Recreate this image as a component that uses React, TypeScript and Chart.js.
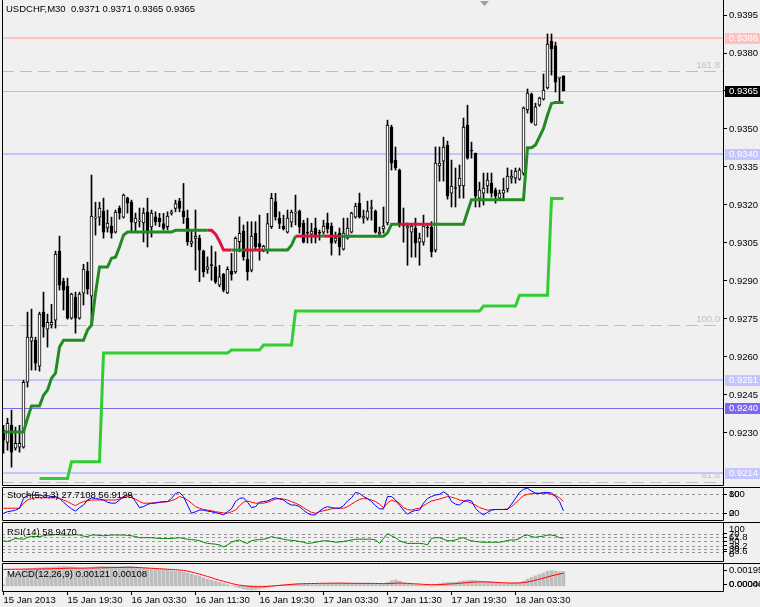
import React, { useEffect, useRef } from "react";
import { Chart, registerables } from "chart.js";

Chart.register(...registerables);

const FAMILY = "Liberation Sans";
const FSIZE = 9.5;
const FONT = `${FSIZE}px "${FAMILY}"`;
const BG = "#F0F0F0";

// ---------- price data (USDCHF M30), one value per candle ----------
const opens = [
  0.92311, 0.92263, 0.9233, 0.9224, 0.92244, 0.92244, 0.925, 0.92662, 0.92666, 0.92564,
  0.92777, 0.9271, 0.92726, 0.92745, 0.93018, 0.92899, 0.9288, 0.92753, 0.92836, 0.92753,
  0.92852, 0.92939, 0.9284, 0.93148, 0.93152, 0.93176, 0.93109, 0.93117, 0.93093, 0.93188,
  0.93152, 0.93227, 0.93211, 0.93129, 0.93136, 0.93129, 0.93172, 0.93113, 0.93153, 0.93147,
  0.93127, 0.93114, 0.93167, 0.93186, 0.93215, 0.93176, 0.93147, 0.93048, 0.93068, 0.93068,
  0.93018, 0.92946, 0.92965, 0.92956, 0.92883, 0.92926, 0.92853, 0.92939, 0.92936, 0.93055,
  0.93097, 0.92985, 0.92943, 0.93088, 0.93048, 0.93022, 0.93022, 0.93114, 0.93213, 0.93147,
  0.93117, 0.93093, 0.93132, 0.93168, 0.93176, 0.93129, 0.93091, 0.93085, 0.93109, 0.93091,
  0.93093, 0.93129, 0.93117, 0.93057, 0.93089, 0.93026, 0.93069, 0.93093, 0.93152, 0.93207,
  0.93148, 0.93148, 0.93186, 0.93176, 0.93085, 0.93105, 0.93129, 0.93508, 0.93377, 0.93338,
  0.93119, 0.93109, 0.93093, 0.93109, 0.93053, 0.93053, 0.93111, 0.93113, 0.93022, 0.93354,
  0.93373, 0.93436, 0.93247, 0.93267, 0.93275, 0.93275, 0.93515, 0.93417, 0.93405, 0.93227,
  0.93247, 0.93275, 0.93286, 0.93259, 0.93227, 0.93247, 0.93263, 0.93306, 0.93306, 0.93302,
  0.93326, 0.93575, 0.93638, 0.93515, 0.93594, 0.93618, 0.93662, 0.93847, 0.93828, 0.93701,
  0.9371,
];
const highs = [
  0.9233, 0.92358, 0.9239, 0.92323, 0.9233, 0.92508, 0.92777, 0.92789, 0.92678, 0.92777,
  0.92856, 0.92769, 0.92808, 0.93018, 0.93077, 0.92911, 0.92911, 0.92852, 0.92856, 0.92856,
  0.92966, 0.92974, 0.93318, 0.93211, 0.93211, 0.93227, 0.9318, 0.93152, 0.9318, 0.93196,
  0.93243, 0.93231, 0.93219, 0.93168, 0.93188, 0.93188, 0.93227, 0.9318, 0.93173, 0.93167,
  0.93167, 0.93173, 0.9318, 0.93219, 0.93226, 0.93285, 0.9318, 0.93101, 0.9318, 0.93081,
  0.93022, 0.92995, 0.93038, 0.93015, 0.92962, 0.9293, 0.92956, 0.93009, 0.93074, 0.93153,
  0.93121, 0.93134, 0.93134, 0.93134, 0.9316, 0.93041, 0.93167, 0.93246, 0.93246, 0.93173,
  0.9316, 0.9318, 0.9318, 0.93239, 0.9318, 0.9314, 0.93148, 0.93128, 0.93148, 0.93101,
  0.9314, 0.93168, 0.93129, 0.93093, 0.93109, 0.93148, 0.93148, 0.93172, 0.93207, 0.93247,
  0.9318, 0.93215, 0.93219, 0.9318, 0.93113, 0.93192, 0.93535, 0.93515, 0.93429, 0.93342,
  0.93188, 0.93129, 0.93121, 0.93148, 0.93089, 0.9316, 0.93121, 0.93134, 0.93429, 0.93429,
  0.93468, 0.93452, 0.93377, 0.93346, 0.93358, 0.93543, 0.93594, 0.93448, 0.93405, 0.9329,
  0.93326, 0.93326, 0.93326, 0.93267, 0.93259, 0.93306, 0.93346, 0.93338, 0.93346, 0.93346,
  0.93587, 0.93658, 0.93642, 0.93602, 0.93626, 0.93717, 0.93875, 0.93875, 0.93843, 0.93705,
  0.9371,
];
const lows = [
  0.9222, 0.92232, 0.92165, 0.92232, 0.92224, 0.9224, 0.92481, 0.92548, 0.92548, 0.92544,
  0.92678, 0.92639, 0.92714, 0.92714, 0.92864, 0.92785, 0.92749, 0.92749, 0.92694, 0.92749,
  0.92805, 0.92848, 0.92733, 0.93081, 0.9312, 0.93069, 0.93093, 0.93069, 0.93089, 0.93144,
  0.93148, 0.93168, 0.93093, 0.93093, 0.93113, 0.93054, 0.93034, 0.93073, 0.9312, 0.93114,
  0.93101, 0.93101, 0.9316, 0.93173, 0.93173, 0.93127, 0.93041, 0.93035, 0.92943, 0.92897,
  0.92916, 0.9293, 0.92903, 0.9289, 0.92877, 0.92857, 0.9285, 0.92903, 0.9293, 0.93015,
  0.92982, 0.92903, 0.92936, 0.93022, 0.92982, 0.93015, 0.93009, 0.93107, 0.9314, 0.93107,
  0.93101, 0.93089, 0.93113, 0.93121, 0.93089, 0.9305, 0.9305, 0.9305, 0.9305, 0.93061,
  0.93085, 0.93089, 0.93002, 0.93049, 0.93002, 0.93022, 0.93065, 0.93089, 0.93148, 0.93148,
  0.93128, 0.9314, 0.9314, 0.93089, 0.93073, 0.93089, 0.93121, 0.93338, 0.93338, 0.93113,
  0.93053, 0.92962, 0.92994, 0.92994, 0.92962, 0.93041, 0.93074, 0.92995, 0.93014, 0.93294,
  0.93294, 0.93223, 0.93192, 0.93192, 0.93227, 0.93227, 0.93381, 0.93385, 0.93192, 0.93192,
  0.932, 0.93247, 0.93231, 0.93207, 0.93219, 0.93227, 0.93251, 0.93286, 0.93286, 0.93298,
  0.93318, 0.93563, 0.93523, 0.93515, 0.9359, 0.93614, 0.93658, 0.93713, 0.93646, 0.93606,
  0.9365,
];
const closes = [
  0.92271, 0.92338, 0.92224, 0.92259, 0.92259, 0.925, 0.92678, 0.92678, 0.92575, 0.92769,
  0.92718, 0.92737, 0.92737, 0.93006, 0.92883, 0.92864, 0.92753, 0.92848, 0.92753, 0.92848,
  0.92947, 0.92868, 0.93156, 0.93152, 0.93188, 0.93093, 0.93129, 0.93089, 0.93172, 0.93168,
  0.93239, 0.93207, 0.93132, 0.93148, 0.9314, 0.93168, 0.93089, 0.93168, 0.93134, 0.93134,
  0.93107, 0.93156, 0.93173, 0.93206, 0.93186, 0.93153, 0.93055, 0.93057, 0.93077, 0.93022,
  0.92936, 0.92956, 0.9296, 0.92897, 0.92916, 0.92864, 0.92946, 0.92926, 0.93068, 0.93088,
  0.92995, 0.92936, 0.93077, 0.93035, 0.93035, 0.93038, 0.93127, 0.93226, 0.93153, 0.93127,
  0.93105, 0.93148, 0.93172, 0.93172, 0.93113, 0.93053, 0.93089, 0.93097, 0.93073, 0.93089,
  0.93117, 0.93105, 0.93049, 0.93069, 0.93034, 0.93089, 0.93109, 0.93168, 0.93196, 0.93152,
  0.93156, 0.93176, 0.9319, 0.93093, 0.93093, 0.93117, 0.93515, 0.93365, 0.93346, 0.93129,
  0.93117, 0.93115, 0.93117, 0.93049, 0.93069, 0.93117, 0.93109, 0.93015, 0.93365, 0.93365,
  0.93429, 0.93235, 0.93275, 0.93265, 0.93306, 0.93508, 0.93385, 0.93413, 0.93235, 0.93259,
  0.93267, 0.93298, 0.93247, 0.93235, 0.93247, 0.93259, 0.93314, 0.93314, 0.93334, 0.93338,
  0.93583, 0.93642, 0.93527, 0.93587, 0.93622, 0.93654, 0.93835, 0.93816, 0.93685, 0.93705,
  0.9365,
];

// upper trailing line and its trend flag (1 = up / green, 0 = down / red)
const upperLine = [
  0.92304, 0.92304, 0.92304, 0.92304, 0.92304, 0.92304, 0.92358, 0.92406, 0.92406, 0.92406,
  0.92449, 0.92469, 0.92516, 0.92536, 0.92639, 0.92666, 0.92666, 0.92666, 0.92666, 0.92666,
  0.92666, 0.92706, 0.92726, 0.92852, 0.92955, 0.92955, 0.92955, 0.9299, 0.92994, 0.93034,
  0.93081, 0.93093, 0.93093, 0.93093, 0.93093, 0.93093, 0.93093, 0.93093, 0.93093, 0.93093,
  0.93093, 0.93093, 0.93093, 0.931, 0.931, 0.931, 0.931, 0.931, 0.931, 0.931,
  0.931, 0.931, 0.931, 0.93085, 0.93057, 0.93022, 0.93022, 0.93022, 0.93022, 0.93022,
  0.93022, 0.93022, 0.93022, 0.93022, 0.93022, 0.93022, 0.93022, 0.93022, 0.93022, 0.93022,
  0.93022, 0.93022, 0.93041, 0.93077, 0.93077, 0.93077, 0.93077, 0.93077, 0.93077, 0.93077,
  0.93077, 0.93077, 0.93077, 0.93077, 0.93077, 0.93077, 0.93077, 0.93077, 0.93077, 0.93077,
  0.93077, 0.93077, 0.93077, 0.93077, 0.93077, 0.93077, 0.9309, 0.93124, 0.93124, 0.93124,
  0.93124, 0.93124, 0.93124, 0.93124, 0.93124, 0.93124, 0.93124, 0.93124, 0.93124, 0.93124,
  0.93124, 0.93124, 0.93124, 0.93124, 0.93124, 0.93124, 0.93173, 0.93221, 0.93221, 0.93221,
  0.93221, 0.93221, 0.93221, 0.93221, 0.93221, 0.93221, 0.93221, 0.93221, 0.93221, 0.93221,
  0.93221, 0.93426, 0.93426, 0.93437, 0.93469, 0.93502, 0.93555, 0.93601, 0.93605, 0.93605,
  0.93605,
];
const upperTrend = [
  1, 1, 1, 1, 1, 1, 1, 1, 1, 1, 1, 1, 1, 1, 1, 1, 1, 1, 1, 1,
  1, 1, 1, 1, 1, 1, 1, 1, 1, 1, 1, 1, 1, 1, 1, 1, 1, 1, 1, 1,
  1, 1, 1, 1, 1, 1, 1, 1, 1, 1, 1, 1, 0, 0, 0, 0, 0, 0, 1, 1,
  1, 0, 0, 0, 0, 0, 1, 1, 1, 1, 1, 1, 1, 1, 0, 0, 0, 0, 0, 0,
  1, 0, 0, 0, 0, 1, 1, 1, 1, 1, 1, 1, 1, 1, 1, 1, 1, 1, 1, 1,
  0, 0, 0, 0, 0, 0, 0, 0, 1, 1, 1, 1, 1, 1, 1, 1, 1, 1, 1, 1,
  1, 1, 1, 1, 1, 1, 1, 1, 1, 1, 1, 1, 1, 1, 1, 1, 1, 1, 1, 1,
  1,
];
// lower trailing line (starts after warm-up)
const lowerLine = [
  null, null, null, null, null, null, null, null, null, 0.9212,
  0.9212, 0.9212, 0.9212, 0.9212, 0.9212, 0.9212, 0.9212, 0.92186, 0.92186, 0.92186,
  0.92186, 0.92186, 0.92186, 0.92186, 0.92186, 0.92616, 0.92616, 0.92616, 0.92616, 0.92616,
  0.92616, 0.92616, 0.92616, 0.92616, 0.92616, 0.92616, 0.92616, 0.92616, 0.92616, 0.92616,
  0.92616, 0.92616, 0.92616, 0.92616, 0.92616, 0.92616, 0.92616, 0.92616, 0.92616, 0.92616,
  0.92616, 0.92616, 0.92616, 0.92616, 0.92616, 0.92616, 0.92616, 0.92627, 0.92627, 0.92627,
  0.92627, 0.92627, 0.92627, 0.92627, 0.92627, 0.92647, 0.92647, 0.92647, 0.92647, 0.92647,
  0.92647, 0.92647, 0.92647, 0.92781, 0.92781, 0.92781, 0.92781, 0.92781, 0.92781, 0.92781,
  0.92781, 0.92781, 0.92781, 0.92781, 0.92781, 0.92781, 0.92781, 0.92781, 0.92781, 0.92781,
  0.92781, 0.92781, 0.92781, 0.92781, 0.92781, 0.92781, 0.92781, 0.92781, 0.92781, 0.92781,
  0.92781, 0.92781, 0.92781, 0.92781, 0.92781, 0.92781, 0.92781, 0.92781, 0.92781, 0.92781,
  0.92781, 0.92781, 0.92781, 0.92781, 0.92781, 0.92781, 0.92781, 0.92781, 0.92781, 0.92781,
  0.92801, 0.92801, 0.92801, 0.92801, 0.92801, 0.92801, 0.92801, 0.92801, 0.92801, 0.92844,
  0.92844, 0.92844, 0.92844, 0.92844, 0.92844, 0.92844, 0.92844, 0.93226, 0.93226, 0.93226,
  0.93226,
];

// horizontal price levels
const levelValues = [0.9386, 0.9365, 0.934, 0.9251, 0.924, 0.9214];
const levelLabels = ["0.9386", "0.9365", "0.9340", "0.9251", "0.9240", "0.9214"];
const fiboValues = [0.93727, 0.92726, 0.92107];
const fiboLabels = ["161.8", "100.0", "61.8"];
const priceTicks = [0.9395, 0.938, 0.9365, 0.935, 0.9335, 0.932, 0.9305, 0.929, 0.9275, 0.926, 0.9245, 0.923];

// time axis
const xTickIndex = [0, 16, 32, 48, 64, 80, 96, 112, 128];
const xTickLabels = [
  "15 Jan 2013", "15 Jan 19:30", "16 Jan 03:30", "16 Jan 11:30", "16 Jan 19:30",
  "17 Jan 03:30", "17 Jan 11:30", "17 Jan 19:30", "18 Jan 03:30",
];

// ---------- indicators ----------
const stochMain = [
  20, 25, 27, 30, 36, 67, 76, 78, 76, 78, 75, 76, 73, 73, 67, 55, 44, 34, 27, 38,
  46, 62, 69, 67, 65, 62, 55, 52, 52, 62, 73, 78, 76, 57, 38, 41, 48, 52, 52, 55,
  57, 57, 67, 83, 86, 73, 46, 20, 25, 30, 30, 27, 25, 22, 19, 15, 25, 34, 57, 67,
  69, 55, 38, 41, 55, 57, 59, 65, 69, 65, 62, 52, 46, 46, 41, 30, 20, 15, 15, 27,
  36, 41, 38, 36, 36, 44, 59, 69, 86, 83, 73, 67, 57, 44, 34, 34, 73, 73, 62, 46,
  30, 17, 25, 29, 30, 52, 67, 73, 78, 80, 88, 80, 57, 49, 46, 57, 62, 59, 36, 23,
  15, 23, 30, 32, 32, 32, 32, 49, 67, 86, 96, 99, 90, 84, 83, 86, 86, 84, 73, 57,
  27.71,
];
const stochSignal = [
  36, 36, 36, 36, 36, 52, 62, 67, 69, 69, 69, 69, 69, 69, 67, 62, 57, 50, 44, 52,
  57, 60, 62, 62, 62, 62, 62, 62, 62, 65, 69, 73, 69, 65, 57, 52, 52, 52, 54, 55,
  55, 57, 60, 65, 73, 69, 62, 52, 41, 36, 32, 30, 28, 25, 23, 21, 20, 25, 30, 44,
  55, 59, 55, 52, 52, 52, 55, 60, 65, 67, 65, 62, 57, 52, 46, 38, 30, 23, 20, 25,
  28, 31, 34, 36, 36, 36, 41, 49, 57, 64, 67, 65, 62, 57, 49, 38, 52, 62, 57, 52,
  38, 32, 30, 34, 36, 44, 52, 59, 62, 65, 69, 73, 71, 67, 62, 60, 57, 52, 46, 38,
  34, 30, 31, 32, 32, 32, 34, 41, 52, 65, 76, 80, 82, 83, 83, 83, 83, 80, 76, 69,
  56.91,
];
const stochLevels = [80, 20];

const rsiValues = [
  52, 50, 54, 58, 57, 56, 61, 63, 63, 63, 65, 67, 67, 68, 68, 67, 67, 67, 68, 67,
  64, 63, 67, 67, 66, 65, 66, 67, 67, 67, 67, 66, 65, 63, 60, 60, 60, 60, 59, 58,
  58, 58, 58, 59, 60, 58, 56, 55, 54, 52, 48, 45, 44, 43, 41, 36, 41, 48, 52, 54,
  48, 45, 52, 54, 55, 56, 58, 63, 60, 58, 56, 54, 53, 52, 50, 48, 45, 46, 48, 50,
  52, 52, 50, 48, 49, 50, 52, 54, 56, 56, 56, 56, 56, 54, 45, 58, 71, 65, 60, 52,
  48, 45, 45, 45, 45, 44, 41, 58, 60, 60, 56, 52, 52, 54, 58, 60, 55, 52, 50, 49,
  48, 48, 48, 48, 48, 50, 53, 54, 54, 58, 65, 67, 63, 61, 63, 64, 67, 67, 65, 60,
  58.947,
];
const rsiLevels = [70, 61.8, 50, 38.2, 30, 23.6];

const macdHist = [
  0.0001, 0.0007, 0.00098, 0.00115, 0.00126, 0.00136, 0.00144, 0.00149, 0.00151, 0.00154,
  0.00157, 0.00158, 0.00159, 0.00162, 0.00165, 0.00165, 0.00163, 0.0016, 0.00155, 0.00152,
  0.0015, 0.00152, 0.00159, 0.00162, 0.00164, 0.00165, 0.00164, 0.00163, 0.00162, 0.00163,
  0.00165, 0.00166, 0.00165, 0.0016, 0.00155, 0.0015, 0.00147, 0.00145, 0.00142, 0.0014,
  0.00137, 0.00133, 0.00129, 0.00126, 0.00123, 0.00118, 0.0011, 0.001, 0.0009, 0.0008,
  0.00068, 0.00058, 0.00048, 0.0004, 0.0003, 0.0002, 0.0001, 0.00002, -0.00008, -0.00016,
  -0.00024, -0.0003, -0.00034, -0.00032, -0.00026, -0.0002, -0.00013, -0.00006, 0, 0.00005,
  0.00009, 0.00012, 0.00014, 0.00016, 0.00017, 0.00016, 0.00014, 0.00012, 0.00011, 0.00013,
  0.00017, 0.0002, 0.00022, 0.00023, 0.00023, 0.00022, 0.00021, 0.0002, 0.00021, 0.00022,
  0.00022, 0.00021, 0.0002, 0.00018, 0.00014, 0.00013, 0.0003, 0.00045, 0.0005, 0.0004,
  0.00025, 0.00018, 0.00015, 0.0001, 0.00008, 0.00006, 0.00004, -0.00005, 0.0001, 0.00018,
  0.00025, 0.00028, 0.0003, 0.0003, 0.00038, 0.00042, 0.00045, 0.00048, 0.00045, 0.0004,
  0.00036, 0.00035, 0.00033, 0.00028, 0.00022, 0.0002, 0.00021, 0.00024, 0.00026, 0.0003,
  0.0004, 0.00058, 0.00072, 0.00085, 0.00097, 0.0011, 0.00126, 0.0013, 0.00126, 0.00122,
  0.00121,
];
const macdSignal = [
  0.0014, 0.00141, 0.00141, 0.00142, 0.00142, 0.00143, 0.00143, 0.00143, 0.00144, 0.00144,
  0.00145, 0.00145, 0.00146, 0.00147, 0.00148, 0.00149, 0.0015, 0.00151, 0.00151, 0.00151,
  0.00151, 0.00152, 0.00152, 0.00153, 0.00154, 0.00155, 0.00155, 0.00156, 0.00156, 0.00157,
  0.00157, 0.00158, 0.00158, 0.00157, 0.00156, 0.00154, 0.00152, 0.0015, 0.00148, 0.00146,
  0.00144, 0.00142, 0.0014, 0.00138, 0.00135, 0.00132, 0.00126, 0.00118, 0.0011, 0.001,
  0.0009, 0.0008, 0.0007, 0.00058, 0.00048, 0.00038, 0.0003, 0.0002, 0.00012, 0.00006,
  0.00002, -0.00002, -0.00005, -0.00007, -0.00008, -0.00007, -0.00005, -0.00002, 0.00001, 0.00004,
  0.00007, 0.0001, 0.00013, 0.00015, 0.00017, 0.00018, 0.00019, 0.0002, 0.0002, 0.00021,
  0.00022, 0.00022, 0.00023, 0.00023, 0.00023, 0.00023, 0.00022, 0.00022, 0.00022, 0.00021,
  0.00021, 0.00021, 0.00021, 0.0002, 0.0002, 0.00019, 0.00019, 0.00021, 0.00023, 0.00024,
  0.00023, 0.00021, 0.00019, 0.00017, 0.00015, 0.00013, 0.00011, 0.0001, 0.0001, 0.00011,
  0.00013, 0.00015, 0.00017, 0.00019, 0.00022, 0.00025, 0.00028, 0.00031, 0.00033, 0.00034,
  0.00034, 0.00033, 0.00032, 0.0003, 0.00028, 0.00026, 0.00025, 0.00024, 0.00024, 0.00025,
  0.00028, 0.00033, 0.0004, 0.00048, 0.00057, 0.00066, 0.00076, 0.00085, 0.00093, 0.00101,
  0.00108,
];
const macdScaleLabels = ["0.00195", "0.00000", "0.00044"];

// ---------- styling ----------
const X_MIN = -0.375;
const X_MAX = 179.875;
const AXIS_W = 37;
const GREEN = "#228B22";
const RED = "#DC143C";
const LIME = "#32CD32";
const levelColors = ["#FFC0C0", "#C0C0C0", "#C4C4FF", "#C4C4FF", "#7B68EE", "#C4C4FF"];
const levelWidths = [2, 1, 2, 2, 1, 2];
const boxColors = ["#FFC0C0", "#000000", "#C4C4FF", "#C4C4FF", "#7B68EE", "#C4C4FF"];

const pts = (arr: (number | null)[]) => arr.map((v, i) => ({ x: i, y: v }));

function xAxis(show: boolean): any {
  return {
    type: "linear",
    min: X_MIN,
    max: X_MAX,
    offset: false,
    display: show,
    afterBuildTicks: (s: any) => {
      s.ticks = xTickIndex.map((v) => ({ value: v }));
    },
    afterFit: (s: any) => {
      if (show) s.height = 16;
      s.paddingLeft = 0;
      s.paddingRight = 0;
    },
    grid: { display: true, drawOnChartArea: false, drawTicks: true, tickLength: 4, tickColor: "#000", offset: false },
    border: { display: false },
    ticks: {
      autoSkip: false,
      maxRotation: 0,
      minRotation: 0,
      align: "start",
      padding: 0,
      color: "#000",
      font: { family: FAMILY, size: FSIZE },
      callback: (_v: any, i: number) => xTickLabels[i] ?? "",
    },
  };
}

function yAxis(min: number, max: number, tickVals: number[], fmt: (v: number) => string): any {
  return {
    type: "linear",
    position: "right",
    min,
    max,
    afterBuildTicks: (s: any) => {
      s.ticks = tickVals.map((v) => ({ value: v }));
    },
    afterFit: (s: any) => {
      s.width = AXIS_W;
      s.paddingTop = 0;
      s.paddingBottom = 0;
    },
    grid: { display: true, drawOnChartArea: false, drawTicks: true, tickLength: 4, tickColor: "#000" },
    border: { display: false },
    ticks: {
      autoSkip: false,
      padding: 2,
      color: "#000",
      font: { family: FAMILY, size: FSIZE },
      callback: (v: any) => fmt(Number(v)),
    },
  };
}

function baseOptions(xShow: boolean, y: any, padBottom: number): any {
  return {
    responsive: false,
    maintainAspectRatio: false,
    animation: false,
    events: [],
    layout: { padding: { left: 2, right: 0, top: 1, bottom: padBottom } },
    plugins: { legend: { display: false }, tooltip: { enabled: false } },
    scales: { x: xAxis(xShow), y },
  };
}

function frame(ctx: CanvasRenderingContext2D, ca: any, topFull: boolean, drawTop: boolean, width: number) {
  ctx.save();
  ctx.strokeStyle = "#000";
  ctx.lineWidth = 1;
  ctx.beginPath();
  const l = Math.round(ca.left) + 0.5;
  const r = Math.round(ca.right) + 0.5;
  const t = Math.round(ca.top) + 0.5;
  const b = Math.round(ca.bottom) + 0.5;
  if (drawTop) {
    ctx.moveTo(l, t);
    ctx.lineTo(topFull ? width : r, t);
    ctx.moveTo(l, t);
  } else {
    ctx.moveTo(l, 0);
  }
  ctx.lineTo(l, b);
  ctx.lineTo(r, b);
  ctx.lineTo(r, drawTop ? t : 0);
  ctx.stroke();
  ctx.restore();
}

function text(ctx: CanvasRenderingContext2D, s: string, x: number, y: number, color = "#000", align: CanvasTextAlign = "left") {
  ctx.save();
  ctx.font = FONT;
  ctx.fillStyle = color;
  ctx.textAlign = align;
  ctx.textBaseline = "middle";
  ctx.fillText(s, x, y);
  ctx.restore();
}

function dashedLevels(chart: any, vals: number[]) {
  const ctx = chart.ctx;
  const ca = chart.chartArea;
  const ys = chart.scales.y;
  ctx.save();
  ctx.strokeStyle = "#969696";
  ctx.lineWidth = 1;
  ctx.setLineDash([3, 3]);
  vals.forEach((v) => {
    const y = Math.round(ys.getPixelForValue(v)) + 0.5;
    ctx.beginPath();
    ctx.moveTo(ca.left, y);
    ctx.lineTo(ca.right, y);
    ctx.stroke();
  });
  ctx.restore();
}

function mainConfig(): any {
  const plugin = {
    id: "mainDecor",
    beforeDatasetsDraw(chart: any) {
      const ctx = chart.ctx;
      const ca = chart.chartArea;
      const ys = chart.scales.y;
      ctx.save();
      // fibonacci dashed levels
      ctx.strokeStyle = "#BEBEBE";
      ctx.lineWidth = 1;
      ctx.setLineDash([12, 6]);
      fiboValues.forEach((v) => {
        const y = Math.round(ys.getPixelForValue(v)) + 0.5;
        ctx.beginPath();
        ctx.moveTo(ca.left, y);
        ctx.lineTo(ca.right, y);
        ctx.stroke();
      });
      ctx.setLineDash([]);
      fiboValues.forEach((v, i) => {
        const y = ys.getPixelForValue(v);
        text(ctx, fiboLabels[i], ca.right - 3, y - 6, "#C0C0C0", "right");
      });
      // horizontal price lines
      levelValues.forEach((v, i) => {
        const w = levelWidths[i];
        const y = Math.round(ys.getPixelForValue(v)) + (w % 2 ? 0.5 : 0);
        ctx.strokeStyle = levelColors[i];
        ctx.lineWidth = w;
        ctx.beginPath();
        ctx.moveTo(ca.left, y);
        ctx.lineTo(ca.right, y);
        ctx.stroke();
      });
      ctx.restore();
    },
    afterDraw(chart: any) {
      const ctx = chart.ctx;
      const ca = chart.chartArea;
      const ys = chart.scales.y;
      frame(ctx, ca, false, false, chart.width);
      // price label boxes on the scale
      levelValues.forEach((v, i) => {
        const y = Math.round(ys.getPixelForValue(v));
        ctx.save();
        ctx.fillStyle = boxColors[i];
        ctx.fillRect(ca.right + 2, y - 5, chart.width - ca.right - 2, 11);
        ctx.restore();
        text(ctx, levelLabels[i], ca.right + 6, y + 0.5, "#FFFFFF");
      });
      // shift marker
      ctx.save();
      ctx.fillStyle = "#A0A0A0";
      ctx.beginPath();
      ctx.moveTo(480, 1);
      ctx.lineTo(489, 1);
      ctx.lineTo(484.5, 6);
      ctx.closePath();
      ctx.fill();
      ctx.restore();
      text(ctx, "USDCHF,M30  0.9371 0.9371 0.9365 0.9365", 6, 9);
    },
  };
  return {
    type: "bar",
    data: {
      datasets: [
        {
          type: "line",
          data: pts(upperLine),
          borderColor: GREEN,
          borderWidth: 3,
          pointRadius: 0,
          borderJoinStyle: "miter",
          segment: { borderColor: (c: any) => (upperTrend[c.p1DataIndex] ? GREEN : RED) },
          order: 0,
        },
        {
          type: "line",
          data: pts(lowerLine),
          borderColor: LIME,
          borderWidth: 3,
          pointRadius: 0,
          spanGaps: false,
          order: 1,
        },
        {
          type: "bar",
          data: opens.map((o, i) => ({ x: i, y: [o, closes[i]] })),
          backgroundColor: opens.map((o, i) => (closes[i] >= o ? "#FFFFFF" : "#000000")),
          borderColor: "#000000",
          borderWidth: 1,
          borderSkipped: false,
          barThickness: 3,
          minBarLength: 1,
          grouped: false,
          order: 2,
        },
        {
          type: "bar",
          data: lows.map((l, i) => ({ x: i, y: [l, highs[i]] })),
          backgroundColor: "#000000",
          borderWidth: 0,
          barThickness: 1,
          grouped: false,
          order: 3,
        },
      ],
    },
    options: baseOptions(false, yAxis(0.920945, 0.940053, priceTicks, (v) => v.toFixed(4)), 1),
    plugins: [plugin],
  };
}

function stochConfig(): any {
  const plugin = {
    id: "stochDecor",
    beforeDatasetsDraw(chart: any) {
      dashedLevels(chart, stochLevels);
    },
    afterDraw(chart: any) {
      const ctx = chart.ctx;
      const ca = chart.chartArea;
      frame(ctx, ca, true, true, chart.width);
      text(ctx, "100", ca.right + 6, ca.top + 7);
      text(ctx, "0", ca.right + 6, ca.bottom - 7);
      text(ctx, "Stoch(5,3,3) 27.7108 56.9129", 7, 9.5);
    },
  };
  return {
    type: "line",
    data: {
      datasets: [
        { data: pts(stochMain), borderColor: "#0000FF", borderWidth: 1, pointRadius: 0 },
        { data: pts(stochSignal), borderColor: "#FF0000", borderWidth: 1, pointRadius: 0 },
      ],
    },
    options: baseOptions(false, yAxis(-1.27, 103.2, stochLevels, (v) => String(v)), 1),
    plugins: [plugin],
  };
}

function rsiConfig(): any {
  const plugin = {
    id: "rsiDecor",
    beforeDatasetsDraw(chart: any) {
      dashedLevels(chart, rsiLevels);
    },
    afterDraw(chart: any) {
      const ctx = chart.ctx;
      const ca = chart.chartArea;
      frame(ctx, ca, true, true, chart.width);
      text(ctx, "100", ca.right + 6, ca.top + 7);
      text(ctx, "0", ca.right + 6, ca.bottom - 7);
      text(ctx, "RSI(14) 58.9470", 7, 11);
    },
  };
  return {
    type: "line",
    data: {
      datasets: [{ data: pts(rsiValues), borderColor: "#008000", borderWidth: 1, pointRadius: 0 }],
    },
    options: baseOptions(false, yAxis(-1.32, 101.3, rsiLevels, (v) => String(v)), 1),
    plugins: [plugin],
  };
}

function macdConfig(): any {
  const plugin = {
    id: "macdDecor",
    afterDraw(chart: any) {
      const ctx = chart.ctx;
      const ca = chart.chartArea;
      frame(ctx, ca, true, true, chart.width);
      ctx.save();
      ctx.strokeStyle = "#000";
      ctx.beginPath();
      [ca.top + 7, ca.bottom - 7].forEach((y) => {
        ctx.moveTo(ca.right, Math.round(y) + 0.5);
        ctx.lineTo(ca.right + 4, Math.round(y) + 0.5);
      });
      ctx.stroke();
      ctx.restore();
      text(ctx, macdScaleLabels[0], ca.right + 6, ca.top + 7);
      text(ctx, macdScaleLabels[1], ca.right + 6, ca.bottom - 7);
      text(ctx, macdScaleLabels[2], ca.right + 6, ca.bottom - 7);
      text(ctx, "MACD(12,26,9) 0.00121 0.00108", 7, 12);
    },
  };
  const y = yAxis(-0.00044, 0.00195, [], (v) => v.toFixed(5));
  return {
    type: "bar",
    data: {
      datasets: [
        {
          type: "line",
          data: pts(macdSignal),
          borderColor: "#FF0000",
          borderWidth: 1,
          pointRadius: 0,
          order: 0,
        },
        {
          type: "bar",
          data: pts(macdHist),
          backgroundColor: "#BEBEBE",
          borderWidth: 0,
          barThickness: 3,
          grouped: false,
          order: 1,
        },
      ],
    },
    options: baseOptions(true, y, 0),
    plugins: [plugin],
  };
}

export default function App() {
  const mainRef = useRef<HTMLCanvasElement>(null);
  const stochRef = useRef<HTMLCanvasElement>(null);
  const rsiRef = useRef<HTMLCanvasElement>(null);
  const macdRef = useRef<HTMLCanvasElement>(null);

  useEffect(() => {
    const charts: Chart[] = [];
    if (mainRef.current) charts.push(new Chart(mainRef.current, mainConfig()));
    if (stochRef.current) charts.push(new Chart(stochRef.current, stochConfig()));
    if (rsiRef.current) charts.push(new Chart(rsiRef.current, rsiConfig()));
    if (macdRef.current) charts.push(new Chart(macdRef.current, macdConfig()));
    return () => charts.forEach((c) => c.destroy());
  }, []);

  const cv = (top: number, h: number): React.CSSProperties => ({
    position: "absolute",
    left: 0,
    top,
    width: 760,
    height: h,
  });

  return (
    <div
      style={{
        position: "absolute",
        left: 0,
        top: 0,
        width: 760,
        height: 607,
        background: BG,
        overflow: "hidden",
      }}
    >
      <canvas ref={mainRef} width={760} height={486} style={cv(0, 486)} />
      <canvas ref={stochRef} width={760} height={35} style={cv(486, 35)} />
      <canvas ref={rsiRef} width={760} height={41} style={cv(521, 41)} />
      <canvas ref={macdRef} width={760} height={45} style={cv(562, 45)} />
    </div>
  );
}
